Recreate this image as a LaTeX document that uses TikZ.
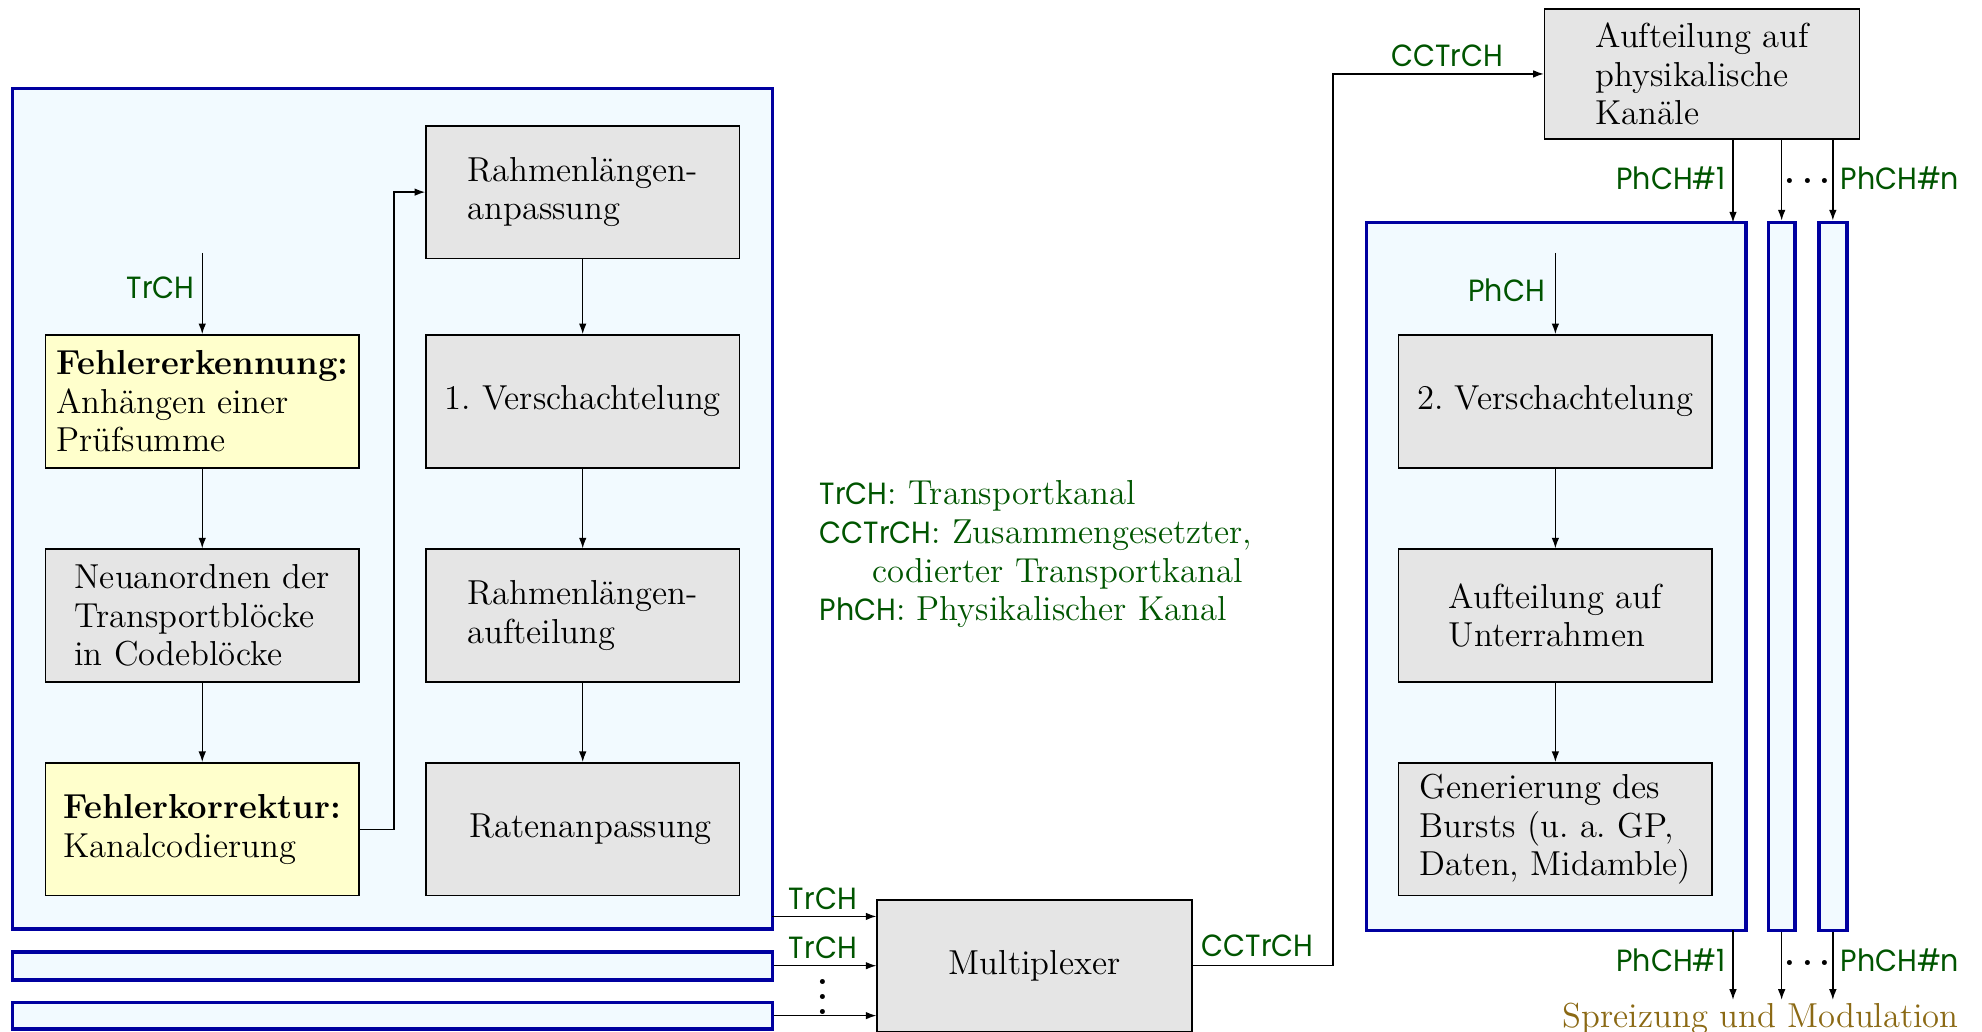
\documentclass[tikz,border=0pt,12pt]{standalone}
\usepackage{fontspec}
\usepackage{tikz}
\usetikzlibrary{positioning,arrows.meta}
\newfontfamily\lblfont[FakeStretch=0.93]{Poppins}
\newcommand{\kanalname}[1]{{\lblfont\fontsize{11.5pt}{14.5pt}\selectfont #1}}
\newcommand{\vpunkte}{{\bfseries\vbox{\baselineskip5.6pt\lineskiplimit0pt\hbox{.}\hbox{.}\hbox{.}}}}
\newcommand{\hpunkte}{{\bfseries .\kern2.6pt.\kern2.6pt.}}
\definecolor{rahmenblau}{RGB}{0,0,160}
\definecolor{hellblau}{RGB}{242,250,255}
\definecolor{kastengrau}{RGB}{229,229,229}
\definecolor{kastengelb}{RGB}{255,255,204}
\definecolor{kanalgruen}{RGB}{0,85,0}
\definecolor{ocker}{RGB}{139,105,20}
\tikzset{
  schrift/.style={font=\fontsize{13pt}{14.5pt}\selectfont},
  rahmen/.style={draw=rahmenblau,fill=hellblau,line width=1.4pt,inner sep=0pt},
  kasten/.style={draw,fill=kastengrau,line width=0.6pt,align=left,schrift,
    minimum width=4.133cm,minimum height=1.75cm,inner sep=2pt},
  gelbkasten/.style={kasten,fill=kastengelb},
  kanal/.style={text=kanalgruen,inner sep=0pt,font=\lblfont\fontsize{11.5pt}{14.5pt}\selectfont},
  pfeil/.style={-{Latex[length=1.4mm,width=1mm]},line width=0.5pt}
}

\begin{document}
\begin{tikzpicture}[x=0.016667cm,y=-0.016667cm]
\useasboundingbox (0,0) rectangle (1568,816);
% Transportkanaele
\draw(310.5,402.5) node[rahmen,minimum width=10.017cm,minimum height=11.083cm] (tfA) {};
\draw(310.5,764) node[rahmen,minimum width=10.017cm,minimum height=0.367cm] (tfB) {};
\draw(310.5,803.5) node[rahmen,minimum width=10.017cm,minimum height=0.35cm] (tfC) {};
\draw(160,317.5) node[gelbkasten] (crc) {\textbf{Fehlererkennung:}\\Anhängen einer\\Prüfsumme};
\draw(160,487) node[kasten] (segm) {Neuanordnen der\\Transportblöcke\\in Codeblöcke};
\draw(160,656) node[gelbkasten] (kodier) {\textbf{Fehlerkorrektur:}\\Kanalcodierung};
\draw(461,152) node[kasten] (rla) {Rahmenlängen-\\anpassung};
\draw(461,317.5) node[kasten] (vs1) {1.\ Verschachtelung};
\draw(461,487) node[kasten] (rlt) {Rahmenlängen-\\aufteilung};
\draw(461,656) node[kasten] (raten) {\hspace*{6pt}Ratenanpassung};
\coordinate (trchein) at (160,200);
\draw(127,228) node[kanal] (ltrch) {TrCH};
\draw[pfeil] (trchein) -- (crc);
\draw[pfeil] (crc) -- (segm);
\draw[pfeil] (segm) -- (kodier);
\draw[pfeil] (kodier.east) -- ++(27,0) |- (rla.west);
\draw[pfeil] (rla) -- (vs1);
\draw[pfeil] (vs1) -- (rlt);
\draw[pfeil] (rlt) -- (raten);
% Multiplexer
\draw(818.5,764) node[kasten,minimum width=4.15cm,minimum height=1.733cm] (mux) {Multiplexer};
\coordinate (eA) at (611,725);
\draw[pfeil] (eA) -- (eA -| mux.west);
\draw[pfeil] (tfB.east) -- (tfB.east -| mux.west);
\draw[pfeil] (tfC.east) -- (tfC.east -| mux.west);
\draw(651,711) node[kanal] (ltrchA) {TrCH};
\draw(651,750) node[kanal] (ltrchB) {TrCH};
\draw(651,789) node[schrift,inner sep=0pt] (vpkt) {\vpunkte};
% Legende
\draw(648,438.5) node[schrift,anchor=west,align=left,text=kanalgruen,inner sep=0pt] (legende)
  {\kanalname{TrCH}: Transportkanal\\
   \kanalname{CCTrCH}: Zusammengesetzter,\\
   \hspace*{0.7cm}codierter Transportkanal\\
   \kanalname{PhCH}: Physikalischer Kanal};
% physikalische Kanaele
\draw(1346.5,58.5) node[kasten,minimum width=4.15cm,minimum height=1.717cm] (split) {Aufteilung auf\\physikalische\\Kanäle};
\draw[pfeil] (mux.east) -- ++(111,0) |- (split.west);
\draw(995,748) node[kanal] (lcc1) {CCTrCH};
\draw(1145,44) node[kanal] (lcc2) {CCTrCH};
\draw(1231,456) node[rahmen,minimum width=5cm,minimum height=9.333cm] (tfP1) {};
\draw(1409.5,456) node[rahmen,minimum width=0.35cm,minimum height=9.333cm] (tfP2) {};
\draw(1450,456) node[rahmen,minimum width=0.367cm,minimum height=9.333cm] (tfP3) {};
\draw(1230.5,317.5) node[kasten] (vs2) {2.\ Verschachtelung};
\draw(1230.5,487) node[kasten] (urahmen) {Aufteilung auf\\Unterrahmen};
\draw(1230.5,656) node[kasten] (burst) {Generierung des\\Bursts (u.\ a.\ GP,\\Daten, Midamble)};
\coordinate (phchein) at (1230.5,200);
\draw(1192,230) node[kanal] (lphch) {PhCH};
\draw[pfeil] (phchein) -- (vs2);
\draw[pfeil] (vs2) -- (urahmen);
\draw[pfeil] (urahmen) -- (burst);
\coordinate (kA) at (1371,176);
\draw[pfeil] (kA |- split.south) -- (kA);
\draw[pfeil] (tfP2.north |- split.south) -- (tfP2.north);
\draw[pfeil] (tfP3.north |- split.south) -- (tfP3.north);
\draw(1322,141) node[kanal] (lph1o) {PhCH\#1};
\draw(1503,141) node[kanal] (lphno) {PhCH\#n};
\draw(1430,143) node[schrift,inner sep=0pt] (hpkto) {\hpunkte};
% Spreizung
\draw(1393,806) node[schrift,text=ocker,inner sep=1pt] (modul) {Spreizung und Modulation};
\coordinate (kB) at (1371,736);
\draw[pfeil] (kB) -- (kB |- modul.north);
\draw[pfeil] (tfP2.south) -- (tfP2.south |- modul.north);
\draw[pfeil] (tfP3.south) -- (tfP3.south |- modul.north);
\draw(1322,760) node[kanal] (lph1u) {PhCH\#1};
\draw(1503,760) node[kanal] (lphnu) {PhCH\#n};
\draw(1430,762) node[schrift,inner sep=0pt] (hpktu) {\hpunkte};
\end{tikzpicture}
\end{document}
